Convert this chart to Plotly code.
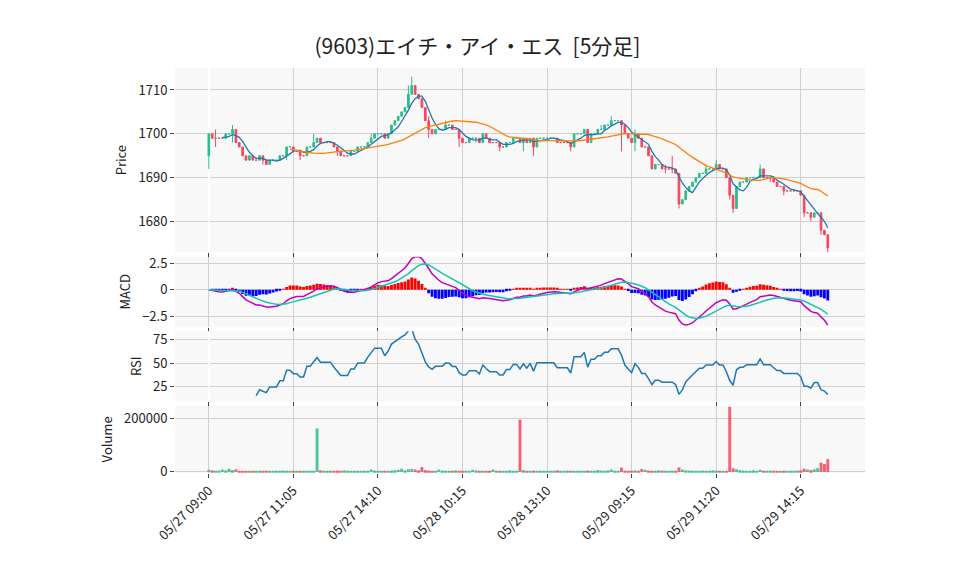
import pandas as pd
import plotly.graph_objects as go
from plotly.subplots import make_subplots

# 5-minute closes (3 sessions)
close = [
    1700, 1699, 1699, 1699, 1699, 1700, 1700, 1701, 1698, 1697,
    1695, 1694, 1695, 1694, 1694, 1695, 1694, 1693, 1694, 1694,
    1694, 1695, 1695, 1697, 1697, 1696, 1696, 1695, 1695, 1697,
    1697, 1698, 1699, 1698, 1698, 1698, 1698, 1697, 1696, 1695,
    1695, 1695, 1696, 1696, 1697, 1697, 1697, 1698, 1699, 1700,
    1700, 1700, 1699, 1700, 1702, 1703, 1704, 1705, 1706, 1709,
    1711, 1709, 1708, 1706, 1703, 1701, 1700, 1701, 1701, 1701,
    1702, 1702, 1701, 1701, 1699, 1698, 1698, 1699, 1699, 1699,
    1698, 1700, 1699, 1698, 1698, 1698, 1697, 1697, 1698, 1698,
    1699, 1699, 1698, 1699, 1698, 1699, 1697, 1699, 1699, 1699,
    1699, 1699, 1699, 1698, 1698, 1698, 1698, 1697, 1700, 1700,
    1700, 1701, 1698, 1700, 1700, 1701, 1701, 1702, 1702, 1703,
    1703, 1703, 1702, 1700, 1699, 1698, 1700, 1699, 1697, 1697,
    1695, 1692, 1693, 1693, 1692, 1692, 1692, 1692, 1691, 1684,
    1685, 1687, 1688, 1689, 1690, 1691, 1691, 1692, 1692, 1692,
    1693, 1692, 1692, 1690, 1686, 1683, 1688, 1689, 1689, 1690,
    1690, 1690, 1690, 1692, 1690, 1690, 1690, 1689, 1688, 1688,
    1687, 1687, 1687, 1687, 1687, 1686, 1682, 1682, 1681, 1682,
    1682, 1678, 1677, 1674,
]
first_open = 1695
# notable wicks (bar index: size in yen)
upper_wick = {2: 2, 7: 1, 31: 2, 48: 1, 59: 2, 60: 2, 65: 1, 70: 1, 116: 1, 119: 1,
              126: 1, 135: 1, 137: 3, 147: 1, 150: 1, 163: 1}
lower_wick = {0: 3, 2: 2, 7: 2, 16: 1, 23: 1, 27: 1, 38: 1, 65: 2, 74: 2, 79: 1,
              86: 1, 93: 2, 96: 2, 107: 1, 122: 6, 126: 2, 135: 1, 137: 1, 139: 1,
              154: 1, 155: 1, 166: 1, 170: 1, 176: 1, 178: 1, 181: 1, 183: 1}
volume = [
    8000, 6000, 4000, 5000, 9000, 6000, 12000, 7000, 10000, 4000,
    3000, 2000, 3000, 2000, 4000, 2000, 3000, 2000, 3000, 4000,
    3000, 2000, 5000, 3000, 2000, 3000, 2000, 2000, 3000, 4000,
    2000, 3000, 163000, 6000, 3000, 2000, 4000, 2000, 5000, 3000,
    6000, 4000, 3000, 2000, 3000, 2000, 4000, 3000, 9000, 5000,
    3000, 2000, 3000, 4000, 5000, 6000, 8000, 12000, 6000, 10000,
    11000, 9000, 6000, 18000, 7000, 5000, 4000, 3000, 9000, 5000,
    4000, 3000, 2000, 6000, 4000, 3000, 2000, 4000, 8000, 6000,
    3000, 4000, 2000, 3000, 9000, 5000, 4000, 3000, 2000, 6000,
    4000, 3000, 196000, 7000, 4000, 3000, 5000, 2000, 3000, 4000,
    3000, 2000, 4000, 6000, 3000, 2000, 5000, 3000, 4000, 3000,
    2000, 3000, 5000, 4000, 3000, 7000, 5000, 4000, 6000, 9000,
    4000, 3000, 16000, 5000, 3000, 4000, 6000, 3000, 11000, 8000,
    5000, 4000, 3000, 6000, 5000, 3000, 4000, 5000, 3000, 17000,
    9000, 6000, 5000, 4000, 3000, 4000, 5000, 3000, 4000, 6000,
    5000, 4000, 3000, 4000, 244000, 14000, 10000, 7000, 5000, 4000,
    3000, 6000, 4000, 8000, 4000, 3000, 5000, 4000, 3000, 4000,
    3000, 2000, 4000, 3000, 5000, 6000, 12000, 9000, 7000, 10000,
    14000, 35000, 30000, 48000,
]
tick_idx = [0, 25, 50, 75, 100, 125, 150, 175]
tick_text = ["05/27 09:00", "05/27 11:05", "05/27 14:10", "05/28 10:15",
             "05/28 13:10", "05/29 09:15", "05/29 11:20", "05/29 14:15"]

n = len(close)
x = list(range(n))
df = pd.DataFrame({"close": close, "volume": volume}, index=x)
df["open"] = df["close"].shift(1).fillna(first_open)
df["high"] = df[["open", "close"]].max(axis=1) + pd.Series(upper_wick).reindex(x).fillna(0)
df["low"] = df[["open", "close"]].min(axis=1) - pd.Series(lower_wick).reindex(x).fillna(0)
df["ma5"] = df["close"].rolling(5).mean()
df["ma25"] = df["close"].rolling(25).mean()
ema12 = df["close"].ewm(span=12, adjust=False).mean()
ema26 = df["close"].ewm(span=26, adjust=False).mean()
df["macd"] = ema12 - ema26
df["signal"] = df["macd"].ewm(span=9, adjust=False).mean()
df["hist"] = df["macd"] - df["signal"]
diff = df["close"].diff()
gain = diff.clip(lower=0).ewm(alpha=1 / 14, adjust=False, min_periods=14).mean()
loss = (-diff.clip(upper=0)).ewm(alpha=1 / 14, adjust=False, min_periods=14).mean()
df["rsi"] = 100 - 100 / (1 + gain / loss)

up, down = "#2ebd85", "#f6465d"

fig = make_subplots(rows=4, cols=1, shared_xaxes=True, vertical_spacing=0.011,
                    row_heights=[0.455, 0.173, 0.173, 0.166])
fig.add_trace(go.Candlestick(x=x, open=df["open"], high=df["high"], low=df["low"],
                             close=df["close"],
                             increasing=dict(line=dict(color=up, width=1), fillcolor=up),
                             decreasing=dict(line=dict(color=down, width=1), fillcolor=down),
                             whiskerwidth=0), row=1, col=1)
fig.add_trace(go.Scatter(x=x, y=df["ma5"], mode="lines", line=dict(color="#1f77b4", width=1.3)), row=1, col=1)
fig.add_trace(go.Scatter(x=x, y=df["ma25"], mode="lines", line=dict(color="#ff7f0e", width=1.3)), row=1, col=1)

fig.add_trace(go.Bar(x=x, y=df["hist"], marker_color=["red" if v >= 0 else "blue" for v in df["hist"]],
                     marker_line_width=0), row=2, col=1)
fig.add_trace(go.Scatter(x=x, y=df["macd"], mode="lines", line=dict(color="#c000c0", width=1.5)), row=2, col=1)
fig.add_trace(go.Scatter(x=x, y=df["signal"], mode="lines", line=dict(color="#17c3b2", width=1.5)), row=2, col=1)

fig.add_trace(go.Scatter(x=x, y=df["rsi"], mode="lines", line=dict(color="#1f77b4", width=1.5)), row=3, col=1)

vcol = [up if c >= o else down for c, o in zip(df["close"], df["open"])]
fig.add_trace(go.Bar(x=x, y=df["volume"], marker_color=vcol, marker_line_width=0, opacity=0.85), row=4, col=1)

grid = "#d0d0d0"
for r in range(1, 5):
    fig.update_xaxes(row=r, col=1, tickvals=tick_idx, ticktext=tick_text, showgrid=True,
                     gridcolor=grid, range=[-10, n + 10], showticklabels=(r == 4),
                     tickangle=-45, ticks="outside", ticklen=4, tickcolor="#444",
                     tickfont=dict(size=13))
    fig.update_yaxes(row=r, col=1, gridcolor=grid, ticks="outside", ticklen=4, tickcolor="#444",
                     zeroline=False, automargin=False, tickfont=dict(size=13),
                     title_font=dict(size=13), title_standoff=8)
fig.update_xaxes(rangeslider_visible=False)
fig.update_yaxes(row=1, col=1, title_text="Price", range=[1673, 1715], tickvals=[1680, 1690, 1700, 1710])
fig.update_yaxes(row=2, col=1, title_text="MACD", range=[-3.5, 3.1], tickvals=[-2.5, 0, 2.5])
fig.update_yaxes(row=3, col=1, title_text="RSI", range=[9, 84], tickvals=[25, 50, 75])
fig.update_yaxes(row=4, col=1, title_text="Volume", range=[-4000, 248000], tickvals=[0, 200000],
                 tickformat="d")

fig.update_layout(
    width=958, height=575,
    margin=dict(l=167, r=101, t=60, b=110),
    title=dict(text="(9603)エイチ・アイ・エス  [5分足]", x=0.49, y=0.945, xanchor="center",
               font=dict(size=21, color="#222")),
    font=dict(family="Noto Sans CJK JP, DejaVu Sans", size=13, color="#222"),
    plot_bgcolor="#f8f8f8", paper_bgcolor="white",
    showlegend=False, bargap=0.15,
)
fig.write_html("out.html")
